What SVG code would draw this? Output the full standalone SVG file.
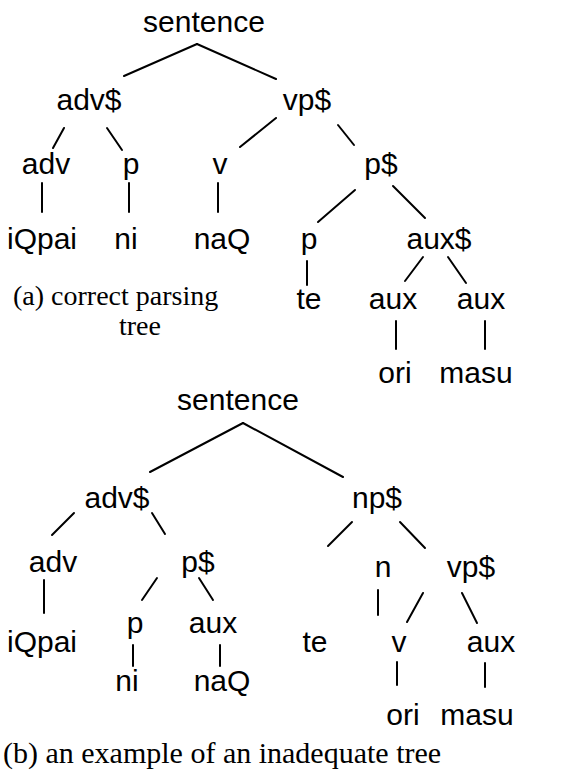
<svg xmlns="http://www.w3.org/2000/svg" width="567" height="776" viewBox="0 0 567 776">
  <style>
    .lbl { font-family: "Liberation Sans", Arial, sans-serif; font-size: 30px; fill: #000; text-anchor: middle; }
    .cap { font-family: "Liberation Serif", "Times New Roman", serif; fill: #000; }
    .edges line { stroke: #000; stroke-width: 2; stroke-linecap: round; }
  </style>
  <rect width="567" height="776" fill="#fff"/>

  <!-- (a) correct parsing tree -->
  <g id="a-sentence"><text class="lbl" x="204" y="32">sentence</text></g>
  <g id="a-advS"><text class="lbl" x="89" y="110">adv$</text></g>
  <g id="a-vpS"><text class="lbl" x="307" y="110">vp$</text></g>
  <g id="a-adv"><text class="lbl" x="46" y="174">adv</text></g>
  <g id="a-p1"><text class="lbl" x="131" y="174">p</text></g>
  <g id="a-v"><text class="lbl" x="220" y="174">v</text></g>
  <g id="a-pS"><text class="lbl" x="381" y="174">p$</text></g>
  <g id="a-iQpai"><text class="lbl" x="42" y="249">iQpai</text></g>
  <g id="a-ni"><text class="lbl" x="126" y="249">ni</text></g>
  <g id="a-naQ"><text class="lbl" x="222" y="249">naQ</text></g>
  <g id="a-p2"><text class="lbl" x="309" y="249">p</text></g>
  <g id="a-auxS"><text class="lbl" x="439" y="249">aux$</text></g>
  <g id="a-te"><text class="lbl" x="309" y="309">te</text></g>
  <g id="a-aux1"><text class="lbl" x="393" y="309">aux</text></g>
  <g id="a-aux2"><text class="lbl" x="481" y="309">aux</text></g>
  <g id="a-ori"><text class="lbl" x="395" y="383">ori</text></g>
  <g id="a-masu"><text class="lbl" x="476" y="383">masu</text></g>
  <g id="a-caption">
    <text class="cap" font-size="28" x="13" y="305">(a) correct parsing</text>
    <text class="cap" font-size="28" x="140" y="335" text-anchor="middle">tree</text>
  </g>

  <g id="a-edges" class="edges">
    <line x1="197" y1="44" x2="124" y2="76"/>
    <line x1="197" y1="44" x2="276" y2="79"/>
    <line x1="64" y1="128" x2="53" y2="148"/>
    <line x1="107" y1="128" x2="122" y2="150"/>
    <line x1="276" y1="118" x2="240" y2="147"/>
    <line x1="338" y1="125" x2="354" y2="145"/>
    <line x1="42" y1="183" x2="42" y2="212"/>
    <line x1="129" y1="183" x2="129" y2="212"/>
    <line x1="218" y1="183" x2="218" y2="212"/>
    <line x1="355" y1="190" x2="318" y2="222"/>
    <line x1="393" y1="186" x2="425" y2="218"/>
    <line x1="307" y1="261" x2="307" y2="285"/>
    <line x1="423" y1="257" x2="405" y2="281"/>
    <line x1="448" y1="257" x2="466" y2="283"/>
    <line x1="396" y1="321" x2="396" y2="349"/>
    <line x1="485" y1="321" x2="485" y2="349"/>
  </g>

  <!-- (b) an example of an inadequate tree -->
  <g id="b-sentence"><text class="lbl" x="238" y="410">sentence</text></g>
  <g id="b-advS"><text class="lbl" x="117" y="508">adv$</text></g>
  <g id="b-npS"><text class="lbl" x="377" y="508">np$</text></g>
  <g id="b-adv"><text class="lbl" x="53" y="572">adv</text></g>
  <g id="b-pS"><text class="lbl" x="198" y="572">p$</text></g>
  <g id="b-n"><text class="lbl" x="383" y="577">n</text></g>
  <g id="b-vpS"><text class="lbl" x="471" y="577">vp$</text></g>
  <g id="b-iQpai"><text class="lbl" x="42" y="652">iQpai</text></g>
  <g id="b-p"><text class="lbl" x="135" y="633">p</text></g>
  <g id="b-aux1"><text class="lbl" x="213" y="633">aux</text></g>
  <g id="b-te"><text class="lbl" x="315" y="652">te</text></g>
  <g id="b-v"><text class="lbl" x="399" y="652">v</text></g>
  <g id="b-aux2"><text class="lbl" x="491" y="652">aux</text></g>
  <g id="b-ni"><text class="lbl" x="127" y="691">ni</text></g>
  <g id="b-naQ"><text class="lbl" x="222" y="691">naQ</text></g>
  <g id="b-ori"><text class="lbl" x="403" y="725">ori</text></g>
  <g id="b-masu"><text class="lbl" x="477" y="725">masu</text></g>
  <g id="b-caption"><text class="cap" font-size="30" x="3" y="763">(b) an example of an inadequate tree</text></g>

  <g id="b-edges" class="edges">
    <line x1="243" y1="423" x2="150" y2="472"/>
    <line x1="243" y1="423" x2="343" y2="477"/>
    <line x1="74" y1="513" x2="52" y2="535"/>
    <line x1="152" y1="513" x2="165" y2="534"/>
    <line x1="352" y1="522" x2="328" y2="546"/>
    <line x1="400" y1="522" x2="425" y2="548"/>
    <line x1="44" y1="580" x2="44" y2="613"/>
    <line x1="157" y1="578" x2="142" y2="600"/>
    <line x1="199" y1="578" x2="213" y2="600"/>
    <line x1="378" y1="590" x2="378" y2="615"/>
    <line x1="423" y1="593" x2="407" y2="622"/>
    <line x1="462" y1="593" x2="477" y2="623"/>
    <line x1="133" y1="645" x2="133" y2="666"/>
    <line x1="220" y1="645" x2="220" y2="666"/>
    <line x1="397" y1="662" x2="397" y2="685"/>
    <line x1="485" y1="663" x2="485" y2="687"/>
  </g>
</svg>
